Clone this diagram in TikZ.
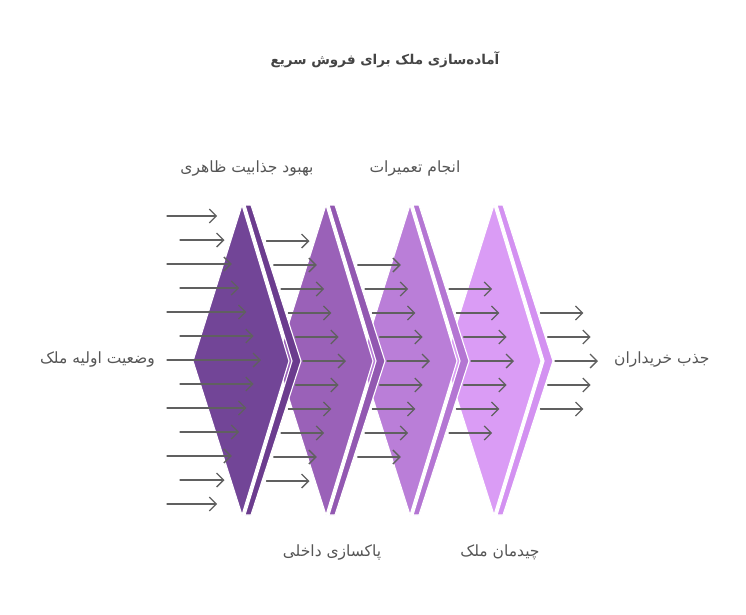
\documentclass[tikz,border=0pt]{standalone}
\usepackage{fontspec}
\newfontfamily\farsi[Script=Arabic]{DejaVu Sans}
\TeXXeTstate=1
\usetikzlibrary{arrows.meta}
\definecolor{stepA}{HTML}{724597}
\definecolor{stepB}{HTML}{9A61B8}
\definecolor{stepC}{HTML}{BA7ED8}
\definecolor{stepD}{HTML}{DA9CF5}
\definecolor{stripA}{HTML}{6B3C8E}
\definecolor{stripB}{HTML}{9258B1}
\definecolor{stripC}{HTML}{B476D3}
\definecolor{stripD}{HTML}{D391F1}
\definecolor{arrowgray}{HTML}{606060}
\definecolor{textgray}{HTML}{555555}
\tikzset{
  stage/.style={draw=white, line width=1.1pt},
  flow/.style={draw=arrowgray, line width=1.3pt, -{Straight Barb[length=7pt,width=14pt]}},
  txt/.style={text=textgray, font=\farsi\fontsize{15.5}{18}\selectfont, inner sep=0pt}
}
\begin{document}
\begin{tikzpicture}[x=1pt, y=-1pt, line join=round, line cap=round]
			\useasboundingbox (0,0) rectangle (746,614);
			\foreach \i/\fc/\sc in {3/stepD/stripD, 2/stepC/stripC, 1/stepB/stripB, 0/stepA/stripA}{
				\pgfmathsetmacro{\cx}{242+84*\i}
				\path
				(\cx,205) coordinate (T\i)
				(\cx+47,361) coordinate (R\i)
				(\cx,515) coordinate (B\i)
				(\cx-49,361) coordinate (L\i)
				(\cx+3,205) coordinate (ST\i)
				(\cx+9,205) coordinate (ST'\i)
				(\cx+50,361) coordinate (SR\i)
				(\cx+59,361) coordinate (SR'\i)
				(\cx+3,515) coordinate (SB\i)
				(\cx+9,515) coordinate (SB'\i)
				;
				\draw[stage, fill=\fc] (T\i)--(R\i)--(B\i)--(L\i)--cycle;
				\draw[stage, fill=\sc] (ST\i)--(ST'\i)--(SR'\i)--(SB'\i)--(SB\i)--(SR\i)--cycle;
			}
			\foreach \k in {0,...,12}{
				\pgfmathsetmacro{\xs}{isodd(\k) ? 180 : 167}
				\pgfmathsetmacro{\xe}{261-7.3*abs(\k-6)}
				\path (\xs,216+24*\k) coordinate (in\k)
				(\xe,216+24*\k) coordinate (inend\k);
				\draw[flow] (in\k)--(inend\k);
			}
			\foreach \s in {1,...,4}{
				\pgfmathtruncatemacro{\m}{6-\s}
				\foreach \k in {-\m,...,\m}{
					\pgfmathsetmacro{\xs}{303+84*\s-84-7.3*abs(\k)}
					\path (\xs,361+24*\k) coordinate (a\s\k)
					++(43,0) coordinate (b\s\k);
					\draw[flow] (a\s\k)--(b\s\k);
				}
			}
			\node[txt, font=\farsi\bfseries\fontsize{13.5}{16}\selectfont, text=textgray!80!black] (title) at (385,60) {\beginR آماده‌سازی ملک برای فروش سریع\endR};
			\node[txt] (appeal) at (247,168) {\beginR بهبود جذابیت ظاهری\endR};
			\node[txt] (repair) at (415,168) {\beginR انجام تعمیرات\endR};
			\node[txt] (clean) at (332,552) {\beginR پاکسازی داخلی\endR};
			\node[txt] (staging) at (500,552) {\beginR چیدمان ملک\endR};
			\node[txt, anchor=east] (start) at (155,359) {\beginR وضعیت اولیه ملک\endR};
			\node[txt, anchor=west] (goal) at (614,359) {\beginR جذب خریداران\endR};
		\end{tikzpicture}
\end{document}
